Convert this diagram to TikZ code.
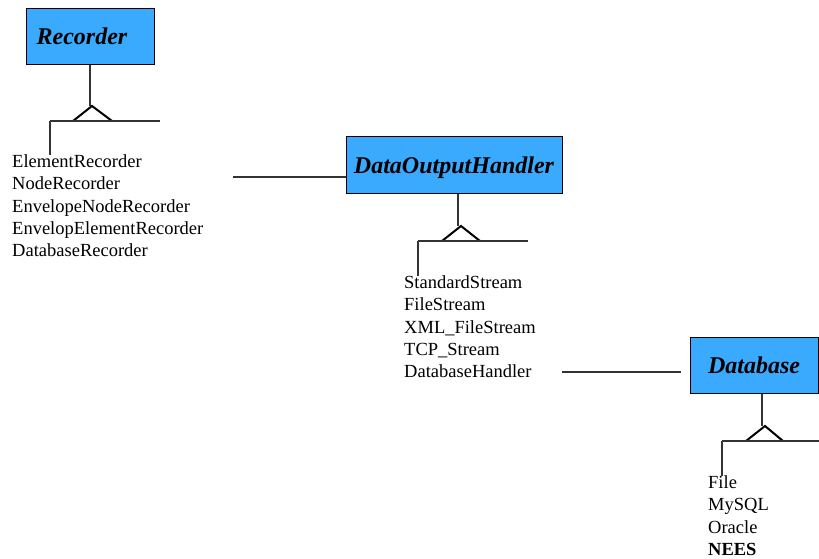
\documentclass[tikz,border=0pt]{standalone}
\usepackage{fontspec}
\setmainfont{Liberation Serif}
\usetikzlibrary{positioning,calc}
\definecolor{classblue}{RGB}{58,170,255}
\tikzset{
  cls/.style={draw, fill=classblue, line width=1pt, inner sep=0pt, minimum height=56pt,
    font=\fontsize{24}{28}\selectfont\bfseries\itshape, text height=16pt, text depth=0pt},
  subs/.style={font=\fontsize{18.5}{22.3}\selectfont, align=left, inner sep=0pt, anchor=north west},
  link/.style={line width=1.2pt, black!80},
  tri/.style={line width=2pt},
}
\begin{document}
\begin{tikzpicture}[x=1pt,y=-1pt]
\useasboundingbox (0,0) rectangle (819,559);
% classes
\node[cls, minimum width=128pt] (rec) at (90,37) {Recorder\hspace*{16pt}};
\node[cls, minimum width=216pt] (doh) at (454,165) {DataOutputHandler};
\node[cls, minimum width=128pt] (db) at (754,365) {Database};
% subclasses
\node[subs] (reclist) at (12,154.5) {ElementRecorder\\NodeRecorder\\EnvelopeNodeRecorder\\EnvelopElementRecorder\\DatabaseRecorder};
\node[subs] (dohlist) at (404,275.5) {StandardStream\\FileStream\\XML\_FileStream\\TCP\_Stream\\DatabaseHandler};
\node[subs] (dblist) at (708,475.5) {File\\MySQL\\Oracle\\\textbf{NEES}};
% Recorder inheritance
\coordinate (rectip) at (90,106);
\coordinate (recbar) at (50,121);
\draw[link] (rec.south) -- (rectip);
\draw[tri] (73,121) -- (92,106) -- (112,121);
\draw[link] (recbar) -- (160,121);
\draw[link] (recbar) -- (recbar |- reclist.north);
% DataOutputHandler inheritance
\coordinate (dohtip) at (458,226);
\coordinate (dohbar) at (418,241);
\draw[link] (dohtip |- doh.south) -- (dohtip);
\draw[tri] (442,241) -- (461,226) -- (480,241);
\draw[link] (dohbar) -- (528,241);
\draw[link] (dohbar) -- (dohbar |- dohlist.north);
% Database inheritance
\coordinate (dbtip) at (762,426);
\coordinate (dbbar) at (722,441);
\draw[link] (dbtip |- db.south) -- (dbtip);
\draw[tri] (746,441) -- (765,426) -- (783,441);
\draw[link] (dbbar) -- (819,441);
\draw[link] (dbbar) -- (dbbar |- dblist.north);
% associations
\coordinate (recout) at (233,177);
\draw[link] (recout) -- (recout -| doh.west);
\coordinate (dohout) at (562,372);
\coordinate (dbin) at (681,372);
\draw[link] (dohout) -- (dbin);
\end{tikzpicture}
\end{document}
